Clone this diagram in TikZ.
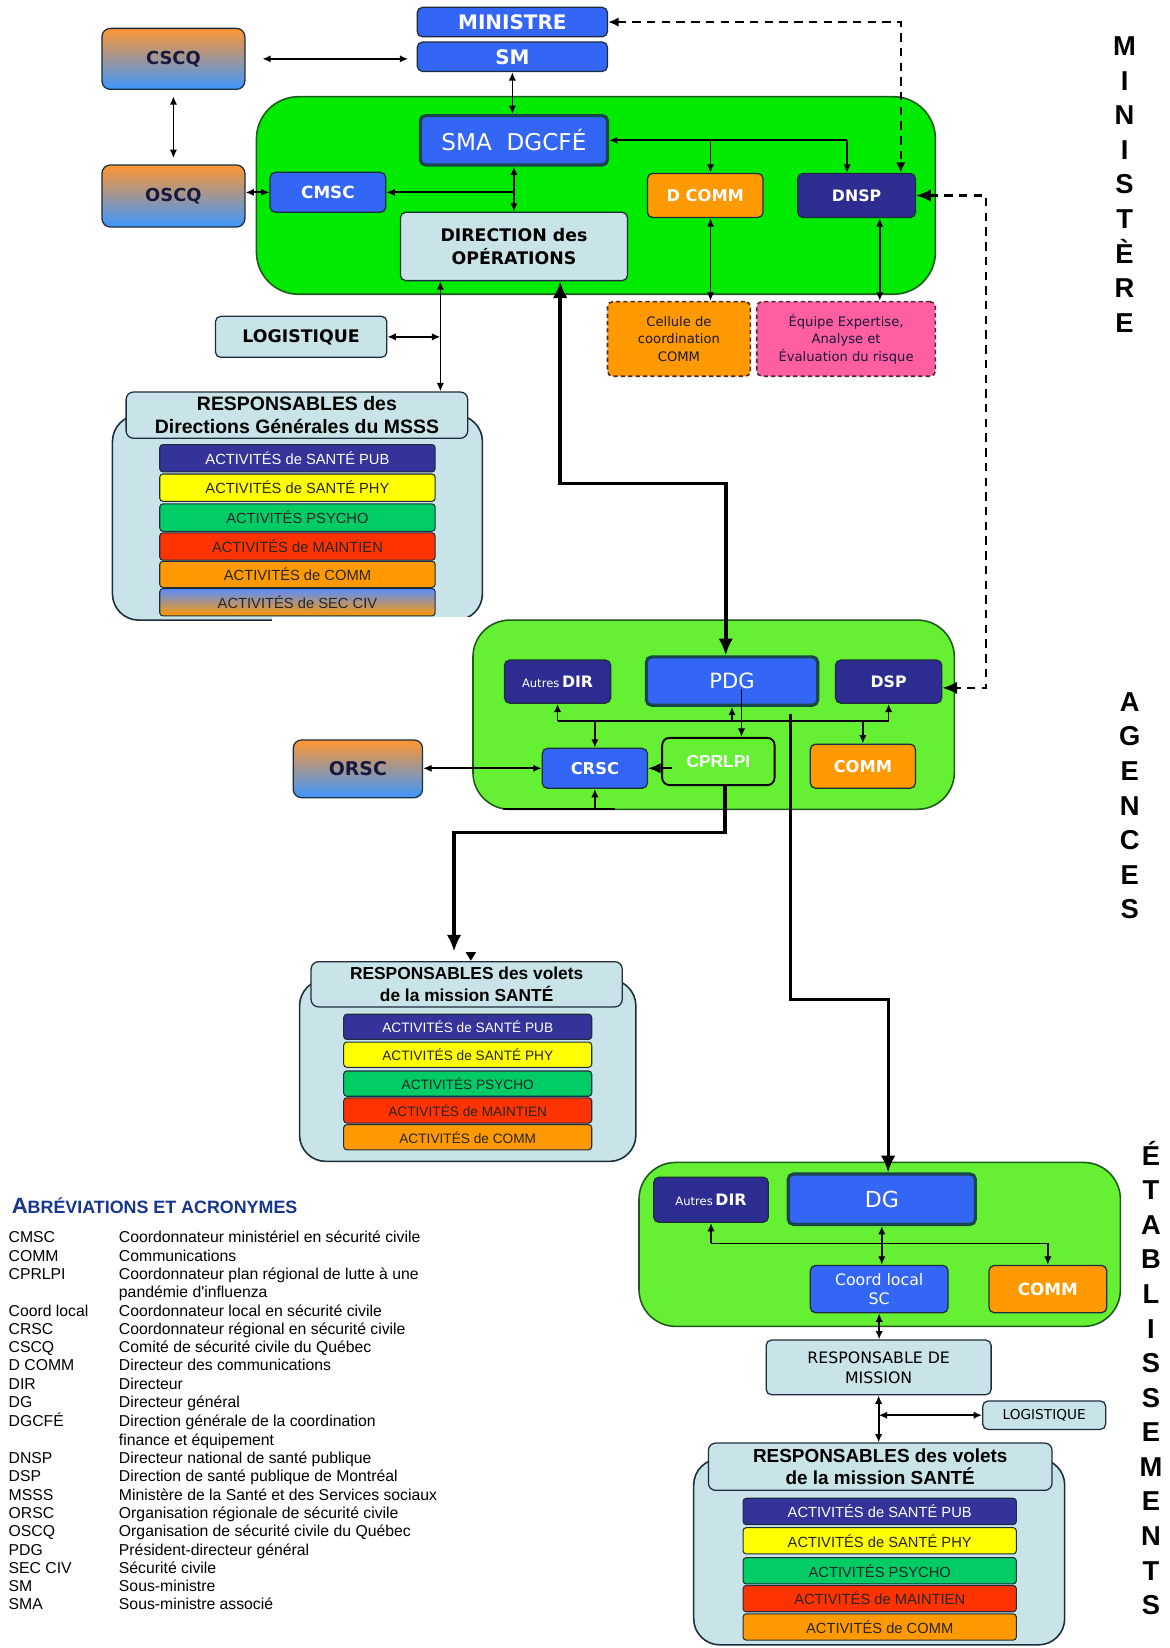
\documentclass[tikz,border=0pt]{standalone}
\usepackage{fontspec}
\usetikzlibrary{arrows.meta,calc}
\newfontfamily\dv{DejaVu Sans}
\newfontfamily\lib{Liberation Sans}
\newcommand\myfs[2]{\fontsize{#1}{#2}\selectfont}
\definecolor{bl}{RGB}{51,102,245}
\definecolor{nv}{RGB}{45,45,145}
\definecolor{org}{RGB}{255,153,0}
\definecolor{gM}{RGB}{0,235,0}
\definecolor{gA}{RGB}{102,240,51}
\definecolor{lb}{RGB}{200,228,232}
\definecolor{pk}{RGB}{255,95,160}
\definecolor{edge}{RGB}{30,45,60}
\definecolor{gedge}{RGB}{30,90,30}
\definecolor{dbl}{RGB}{25,70,75}
\definecolor{dk}{RGB}{25,25,60}
\definecolor{dk2}{RGB}{80,40,50}
\definecolor{gor}{RGB}{255,150,50}
\definecolor{gbl}{RGB}{60,150,255}
\definecolor{pub}{RGB}{51,51,153}
\definecolor{phy}{RGB}{255,255,0}
\definecolor{psy}{RGB}{0,204,102}
\definecolor{mnt}{RGB}{255,51,0}
\definecolor{ttl}{RGB}{23,54,143}
\tikzset{
 wh/.style 2 args={minimum width=#1, minimum height=#2},
 bx/.style={draw=edge, line width=1.2pt, rounded corners=5pt, inner sep=0pt, align=center},
 bluebox/.style={bx, fill=bl, text=white, font=\dv\bfseries\myfs{16}{19}},
 nvbox/.style={bx, fill=nv, text=white, font=\dv\bfseries\myfs{15}{18}},
 orgbox/.style={bx, fill=org, text=white, font=\dv\bfseries\myfs{15.5}{18}},
 lbbox/.style={bx, fill=lb, text=black},
 gradbox/.style={bx, rounded corners=8pt, top color=gor, bottom color=gbl, text=dk, font=\dv\bfseries\myfs{17}{20}},
 dblbox/.style={bx, fill=bl, text=white, draw=dbl, line width=3pt},
 celbox/.style={bx, dash pattern=on 4pt off 3pt, draw=dk2, line width=1.5pt, text=dk, font=\dv\myfs{12.5}{16.5}},
 cprbox/.style={bx, fill=gA, draw=black, line width=1.8pt, rounded corners=7pt, text=white, font=\lib\bfseries\myfs{16.5}{20}},
 grpM/.style={draw=gedge, line width=1.5pt, fill=gM, rounded corners=40pt, inner sep=0pt},
 grpA/.style={draw=gedge, line width=1.5pt, fill=gA, rounded corners=35pt, inner sep=0pt},
 grpL/.style={draw=edge, line width=1.5pt, fill=lb, rounded corners=25pt, inner sep=0pt},
 hdr/.style={bx, fill=lb, rounded corners=7pt, text=black},
 actbar/.style={draw=edge, line width=1pt, rounded corners=3pt, inner sep=0pt, text=black!85, font=\lib\myfs{13}{15}},
 bigbar/.style={actbar, font=\lib\myfs{14}{16}},
 ar1/.style={line width=1.6pt, -{Latex[length=8pt,width=7pt]}},
 dar/.style={line width=1.6pt, {Latex[length=8pt,width=7pt]}-{Latex[length=8pt,width=7pt]}},
 tar/.style={line width=3.5pt, -{Latex[length=16pt,width=14pt]}},
 tdar/.style={line width=3.5pt, {Latex[length=16pt,width=14pt]}-{Latex[length=16pt,width=14pt]}},
 dsh/.style={line width=2pt, dash pattern=on 8pt off 6pt, {Latex[length=10pt,width=9pt]}-{Latex[length=10pt,width=9pt]}},
 dshb/.style={line width=2.4pt, dash pattern=on 8pt off 6pt, {Latex[length=14pt,width=12pt]}-{Latex[length=14pt,width=12pt]}},
 vt/.style={font=\lib\bfseries\myfs{26}{32.9}, align=center, inner sep=0pt},
}
\newcommand\abb[1]{\makebox[105pt][l]{#1}}
\begin{document}
\begin{tikzpicture}[x=1pt,y=-1pt]
\useasboundingbox[fill=white] (0,0) rectangle (1113.2,1568);

% ===== group backgrounds =====
\node[grpM, wh={646pt}{188pt}] (GM) at (567,186) {};
\node[grpL, wh={352pt}{195pt}] (R1) at (283,492.5) {};
\fill[white] (259,587) rectangle (470,600);
\node[grpA, wh={458pt}{180pt}] (GA) at (679,680) {};
\node[grpL, wh={320pt}{173pt}] (R2) at (445,1018.5) {};
\node[grpA, wh={458pt}{156pt}] (GE) at (837,1184) {};
\node[grpL, wh={353pt}{177pt}] (R3) at (836.5,1476.5) {};

% ===== Ministere =====
\node[bluebox, wh={181pt}{28pt}, font=\dv\bfseries\myfs{19}{22}] (MIN) at (487.5,21) {MINISTRE};
\node[bluebox, wh={181pt}{28pt}, font=\dv\bfseries\myfs{19}{22}] (SM) at (487.5,54) {SM};
\node[gradbox, wh={136pt}{58pt}] (CSCQ) at (165,56) {CSCQ};
\node[gradbox, wh={136pt}{59pt}] (OSCQ) at (165,186.5) {OSCQ};
\node[dblbox, wh={178pt}{47pt}, font=\dv\myfs{22}{26}] (SMA) at (489,133.5) {SMA\ \ DGCFÉ};
\node[bluebox, wh={110pt}{38pt}] (CMSC) at (312,183) {CMSC};
\node[lbbox, wh={216pt}{65pt}, font=\dv\bfseries\myfs{16.5}{22}] (DIR) at (489,234.5) {DIRECTION des\\OPÉRATIONS};
\node[orgbox, wh={110pt}{42pt}] (DCOMM) at (671,186) {D COMM};
\node[nvbox, wh={112pt}{42pt}] (DNSP) at (815,186) {DNSP};
\node[celbox, fill=org, wh={136pt}{71pt}] (CEL) at (646,322.5) {Cellule de\\coordination\\COMM};
\node[celbox, fill=pk, wh={170pt}{71pt}] (EQ) at (805,322.5) {Équipe Expertise,\\Analyse et\\Évaluation du risque};
\node[lbbox, wh={163pt}{39pt}, font=\dv\bfseries\myfs{16.5}{20}] (LOG) at (286.5,320.5) {LOGISTIQUE};

\node[hdr, wh={325pt}{44pt}, font=\lib\bfseries\myfs{18.5}{21.5}] (R1H) at (282.5,395) {RESPONSABLES des\\Directions Générales du MSSS};
\node[bigbar, fill=pub, text=white, wh={262pt}{26pt}] (R1a) at (283,436) {ACTIVITÉS de SANTÉ PUB};
\node[bigbar, fill=phy, wh={262pt}{26pt}] (R1b) at (283,464) {ACTIVITÉS de SANTÉ PHY};
\node[bigbar, fill=psy, wh={262pt}{26pt}] (R1c) at (283,492.5) {ACTIVITÉS PSYCHO};
\node[bigbar, fill=mnt, wh={262pt}{26pt}] (R1d) at (283,520) {ACTIVITÉS de MAINTIEN};
\node[bigbar, fill=org, wh={262pt}{25pt}] (R1e) at (283,546.5) {ACTIVITÉS de COMM};
\node[bigbar, top color={rgb,255:red,90;green,140;blue,255}, bottom color=org, wh={262pt}{26pt}] (R1f) at (283,573) {ACTIVITÉS de SEC CIV};

% ===== Agences =====
\node[nvbox, wh={101pt}{41pt}] (ADIR) at (530.5,648.5) {{\mdseries\myfs{11}{13}Autres}\,DIR};
\node[dblbox, wh={163pt}{46pt}, font=\dv\myfs{20}{24}] (PDG) at (696.5,648) {PDG};
\node[nvbox, wh={101pt}{41pt}] (DSP) at (845.5,648.5) {DSP};
\node[bluebox, wh={100pt}{38pt}, font=\dv\bfseries\myfs{15.5}{18}] (CRSC) at (566,731) {CRSC};
\node[cprbox, wh={107pt}{45pt}] (CPR) at (683.5,724.5) {CPRLPI};
\node[orgbox, wh={100pt}{42pt}] (COMA) at (821,729) {COMM};
\node[gradbox, wh={123pt}{55pt}, font=\dv\bfseries\myfs{18}{22}] (ORSC) at (340.5,731.5) {ORSC};

\node[hdr, wh={296pt}{43pt}, font=\lib\bfseries\myfs{16.5}{20}] (R2H) at (444,936.5) {RESPONSABLES des volets\\de la mission SANTÉ};
\node[actbar, fill=pub, text=white, wh={236pt}{24pt}] (R2a) at (445,977) {ACTIVITÉS de SANTÉ PUB};
\node[actbar, fill=phy, wh={236pt}{24pt}] (R2b) at (445,1003.5) {ACTIVITÉS de SANTÉ PHY};
\node[actbar, fill=psy, wh={236pt}{24pt}] (R2c) at (445,1031) {ACTIVITÉS PSYCHO};
\node[actbar, fill=mnt, wh={236pt}{24pt}] (R2d) at (445,1056.5) {ACTIVITÉS de MAINTIEN};
\node[actbar, fill=org, wh={236pt}{24pt}] (R2e) at (445,1082) {ACTIVITÉS de COMM};

% ===== Etablissements =====
\node[nvbox, wh={109pt}{43pt}] (ADIR2) at (676.5,1141.5) {{\mdseries\myfs{11}{13}Autres}\,DIR};
\node[dblbox, wh={178pt}{48pt}, font=\dv\myfs{21}{25}] (DG) at (839,1141) {DG};
\node[bluebox, wh={131pt}{45pt}, font=\dv\myfs{15}{18}] (COORD) at (836.5,1226.5) {Coord local\\SC};
\node[orgbox, wh={112pt}{45pt}, font=\dv\bfseries\myfs{16}{19}] (COM2) at (997,1226.5) {COMM};
\node[lbbox, wh={214pt}{52pt}, font=\dv\myfs{15}{19}] (RDM) at (836,1301) {RESPONSABLE DE\\MISSION};
\node[lbbox, wh={117pt}{27pt}, font=\dv\myfs{13}{15}] (LOG2) at (993.5,1346.5) {LOGISTIQUE};
\node[hdr, wh={327pt}{45pt}, font=\lib\bfseries\myfs{18}{21}] (R3H) at (837.5,1395.5) {RESPONSABLES des volets\\de la mission SANTÉ};
\node[bigbar, fill=pub, text=white, wh={260pt}{25pt}] (R3a) at (837,1438) {ACTIVITÉS de SANTÉ PUB};
\node[bigbar, fill=phy, wh={260pt}{25pt}] (R3b) at (837,1466) {ACTIVITÉS de SANTÉ PHY};
\node[bigbar, fill=psy, wh={260pt}{25pt}] (R3c) at (837,1494.5) {ACTIVITÉS PSYCHO};
\node[bigbar, fill=mnt, wh={260pt}{25pt}] (R3d) at (837,1521) {ACTIVITÉS de MAINTIEN};
\node[bigbar, fill=org, wh={260pt}{25pt}] (R3e) at (837,1548) {ACTIVITÉS de COMM};

% ===== connectors: ministere =====
\draw[dar, shorten <=16pt, shorten >=8pt] (CSCQ.east) -- (CSCQ.east -| SM.west);
\draw[dar, shorten <=6pt, shorten >=6pt] (CSCQ.south) -- (OSCQ.north);
\draw[dar] (OSCQ.east |- CMSC.west) -- (CMSC.west);
\draw[dar] (SM.south) -- (SM.south |- SMA.north);
\draw[dar] (SMA.south) -- (SMA.south |- DIR.north);
\draw[ar1] (SMA.south |- CMSC.east) -- (CMSC.east);
\coordinate (s1) at ([xshift=-9pt]DNSP.north);
\coordinate (s2) at ([xshift=5pt]DCOMM.north);
\draw[ar1] (s1 |- SMA.east) -- (SMA.east);
\draw[ar1] (s2 |- SMA.east) -- (s2);
\draw[ar1] (s1 |- SMA.east) -- (s1);
\coordinate (d1) at ([xshift=42pt]DNSP.north);
\draw[dsh] (MIN.east) -| (d1);
\coordinate (k4) at (938,400);
\coordinate (d2) at ([yshift=-6pt]DSP.east);
\draw[dshb] (DNSP.east) -| (k4) |- (d2);
\coordinate (s3) at ([xshift=5pt]DCOMM.south);
\draw[dar] (s3) -- (s3 |- CEL.north);
\coordinate (s4) at ([xshift=22pt]DNSP.south);
\draw[dar] (s4) -- (s4 |- EQ.north);
\coordinate (v1) at ([xshift=-70pt]DIR.south);
\draw[dar] (v1) -- (v1 |- R1H.north);
\draw[dar] (LOG.east) -- (v1 |- LOG.east);

% ===== thick connectors =====
\coordinate (t1) at ([xshift=44pt]DIR.south);
\coordinate (k1) at (600,460);
\coordinate (t2) at ([xshift=-6pt]PDG.north);
\draw[tdar] (t1) |- (k1) -| (t2);
\coordinate (c1) at ([xshift=6.5pt]CPR.south);
\coordinate (k2) at (560,792);
\coordinate (c2) at ([xshift=-12pt]R2H.north);
\draw[tar, shorten >=9pt] (c1) |- (k2) -| (c2);
\fill (443,906) -- (453,906) -- (448,914) -- cycle;
\coordinate (p3) at ([xshift=55.5pt,yshift=-7pt]PDG.south);
\coordinate (k3) at (800,951);
\coordinate (p4) at ([xshift=6pt]DG.north);
\draw[tar, line width=3pt] (p3) |- (k3) -| (p4);

% ===== connectors: agences =====
\coordinate (bus) at (700,686);
\draw[line width=1.6pt] (ADIR.south |- bus) -- (DSP.south |- bus);
\draw[ar1] (ADIR.south |- bus) -- (ADIR.south);
\draw[ar1] (PDG.south |- bus) -- (PDG.south);
\draw[ar1] (DSP.south |- bus) -- (DSP.south);
\draw[ar1] (CRSC.north |- bus) -- (CRSC.north);
\draw[ar1] (COMA.north |- bus) -- (COMA.north);
\coordinate (p1) at ([xshift=9pt,yshift=-8pt]PDG.center);
\draw[ar1] (p1) -- (p1 |- CPR.north);
\coordinate (p2) at ([xshift=10pt]CPR.west);
\draw[line width=1.6pt, -{Latex[length=12pt,width=10pt]}] (p2 |- CRSC.east) -- (CRSC.east);
\draw[dar] (ORSC.east |- CRSC.west) -- (CRSC.west);
\coordinate (b1) at (479,770);
\coordinate (b2) at (585,770);
\draw[line width=2pt] (b1) -- (b2);
\draw[ar1] (CRSC.south |- b1) -- (CRSC.south);

% ===== connectors: etablissements =====
\coordinate (bus2) at (800,1183);
\draw[line width=1.6pt] (ADIR2.south |- bus2) -- (COM2.north |- bus2);
\draw[ar1] (ADIR2.south |- bus2) -- (ADIR2.south);
\draw[ar1] (COM2.north |- bus2) -- (COM2.north);
\draw[dar] (DG.south) -- (DG.south |- COORD.north);
\draw[dar] (COORD.south) -- (COORD.south |- RDM.north);
\draw[dar] (RDM.south) -- (RDM.south |- R3H.north);
\draw[dar] (RDM.south |- LOG2.west) -- (LOG2.west);

% ===== vertical titles =====
\node[vt] (VM) at (1070,175.5) {M\\I\\N\\I\\S\\T\\È\\R\\E};
\node[vt] (VA) at (1075,766.7) {A\\G\\E\\N\\C\\E\\S};
\node[vt] (VE) at (1095,1311) {É\\T\\A\\B\\L\\I\\S\\S\\E\\M\\E\\N\\T\\S};

% ===== legend =====
\node[anchor=west, inner sep=0pt, font=\lib\bfseries, text=ttl] (LT) at (11,1147) {{\myfs{21}{24}A}{\myfs{17}{19}BRÉVIATIONS ET ACRONYMES}};
\node[anchor=north west, inner sep=0pt, font=\lib\myfs{15}{17.43}] (LEG) at (8,1170) {%
\begin{tabular}{@{}l@{}l@{}}
\abb{CMSC} & Coordonnateur ministériel en sécurité civile\\
\abb{COMM} & Communications\\
\abb{CPRLPI} & Coordonnateur plan régional de lutte à une\\
\abb{} & pandémie d'influenza\\
\abb{Coord local} & Coordonnateur local en sécurité civile\\
\abb{CRSC} & Coordonnateur régional en sécurité civile\\
\abb{CSCQ} & Comité de sécurité civile du Québec\\
\abb{D COMM} & Directeur des communications\\
\abb{DIR} & Directeur\\
\abb{DG} & Directeur général\\
\abb{DGCFÉ} & Direction générale de la coordination\\
\abb{} & finance et équipement\\
\abb{DNSP} & Directeur national de santé publique\\
\abb{DSP} & Direction de santé publique de Montréal\\
\abb{MSSS} & Ministère de la Santé et des Services sociaux\\
\abb{ORSC} & Organisation régionale de sécurité civile\\
\abb{OSCQ} & Organisation de sécurité civile du Québec\\
\abb{PDG} & Président-directeur général\\
\abb{SEC CIV} & Sécurité civile\\
\abb{SM} & Sous-ministre\\
\abb{SMA} & Sous-ministre associé
\end{tabular}};
\end{tikzpicture}
\end{document}
